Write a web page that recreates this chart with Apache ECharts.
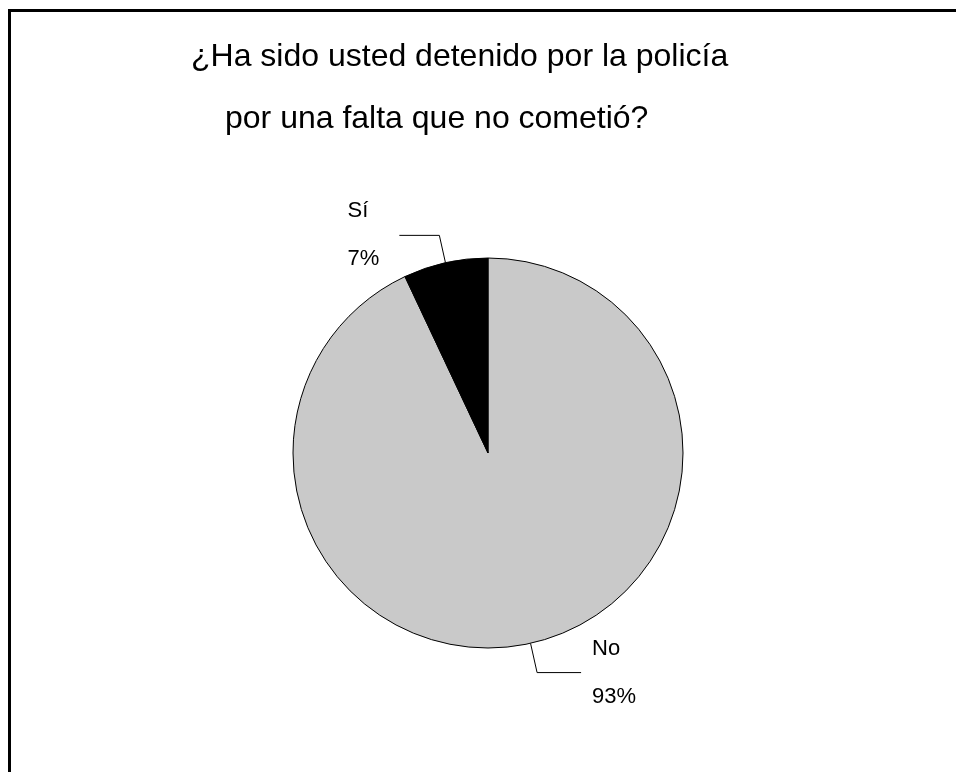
<!DOCTYPE html>
<html>
<head>
<meta charset="utf-8">
<style>
html,body{margin:0;padding:0;background:#fff;}
#chart{width:956px;height:772px;}
</style>
<script src="https://cdn.jsdelivr.net/npm/echarts@6/dist/echarts.min.js"></script>
</head>
<body>
<div id="chart"></div>
<script>
const titleLines = ['¿Ha sido usted detenido por la policía', 'por una falta que no cometió?'];
const categories = ['No', 'Sí'];
const percents = [93, 7];
const sliceColors = ['#c9c9c9', '#000000'];

const FONT = '"Liberation Sans", Arial, sans-serif';
const chart = echarts.init(document.getElementById('chart'), null, {renderer: 'canvas'});

const data = categories.map((name, i) => {
  const isLeft = name === 'Sí';
  return {
    name: name,
    value: percents[i],
    itemStyle: {color: sliceColors[i]},
    label: {
      distanceToLabelLine: isLeft ? 20 : 11
    },
    labelLine: {
      length: isLeft ? 28 : 30,
      length2: isLeft ? 40 : 44
    }
  };
});

chart.setOption({
  backgroundColor: '#ffffff',
  animation: false,
  title: [
    {text: titleLines[0], left: 191, top: 41, padding: 0,
     textStyle: {fontFamily: FONT, fontSize: 32, fontWeight: 'normal', color: '#000'}},
    {text: titleLines[1], left: 225, top: 103, padding: 0,
     textStyle: {fontFamily: FONT, fontSize: 32, fontWeight: 'normal', color: '#000'}}
  ],
  graphic: [{
    type: 'rect',
    shape: {x: 9.5, y: 10.5, width: 1000, height: 1000},
    style: {fill: 'none', stroke: '#000', lineWidth: 3},
    silent: true
  }],
  series: [{
    type: 'pie',
    center: [488, 453],
    radius: 195,
    startAngle: 90,
    clockwise: true,
    avoidLabelOverlap: false,
    data: data,
    itemStyle: {borderColor: '#000', borderWidth: 1},
    emphasis: {disabled: true},
    label: {
      show: true,
      position: 'outside',
      formatter: function (p) { return '{a|' + p.name + '}\n{gap|}\n{a|' + p.value + '%}'; },
      rich: {
        a: {fontFamily: FONT, fontSize: 22, color: '#000', lineHeight: 24, align: 'left'},
        gap: {fontSize: 22, lineHeight: 24}
      },
      fontFamily: FONT, fontSize: 22, color: '#000', lineHeight: 24
    },
    labelLine: {
      show: true,
      smooth: false,
      lineStyle: {color: '#000', width: 1}
    }
  }]
});
</script>
</body>
</html>
